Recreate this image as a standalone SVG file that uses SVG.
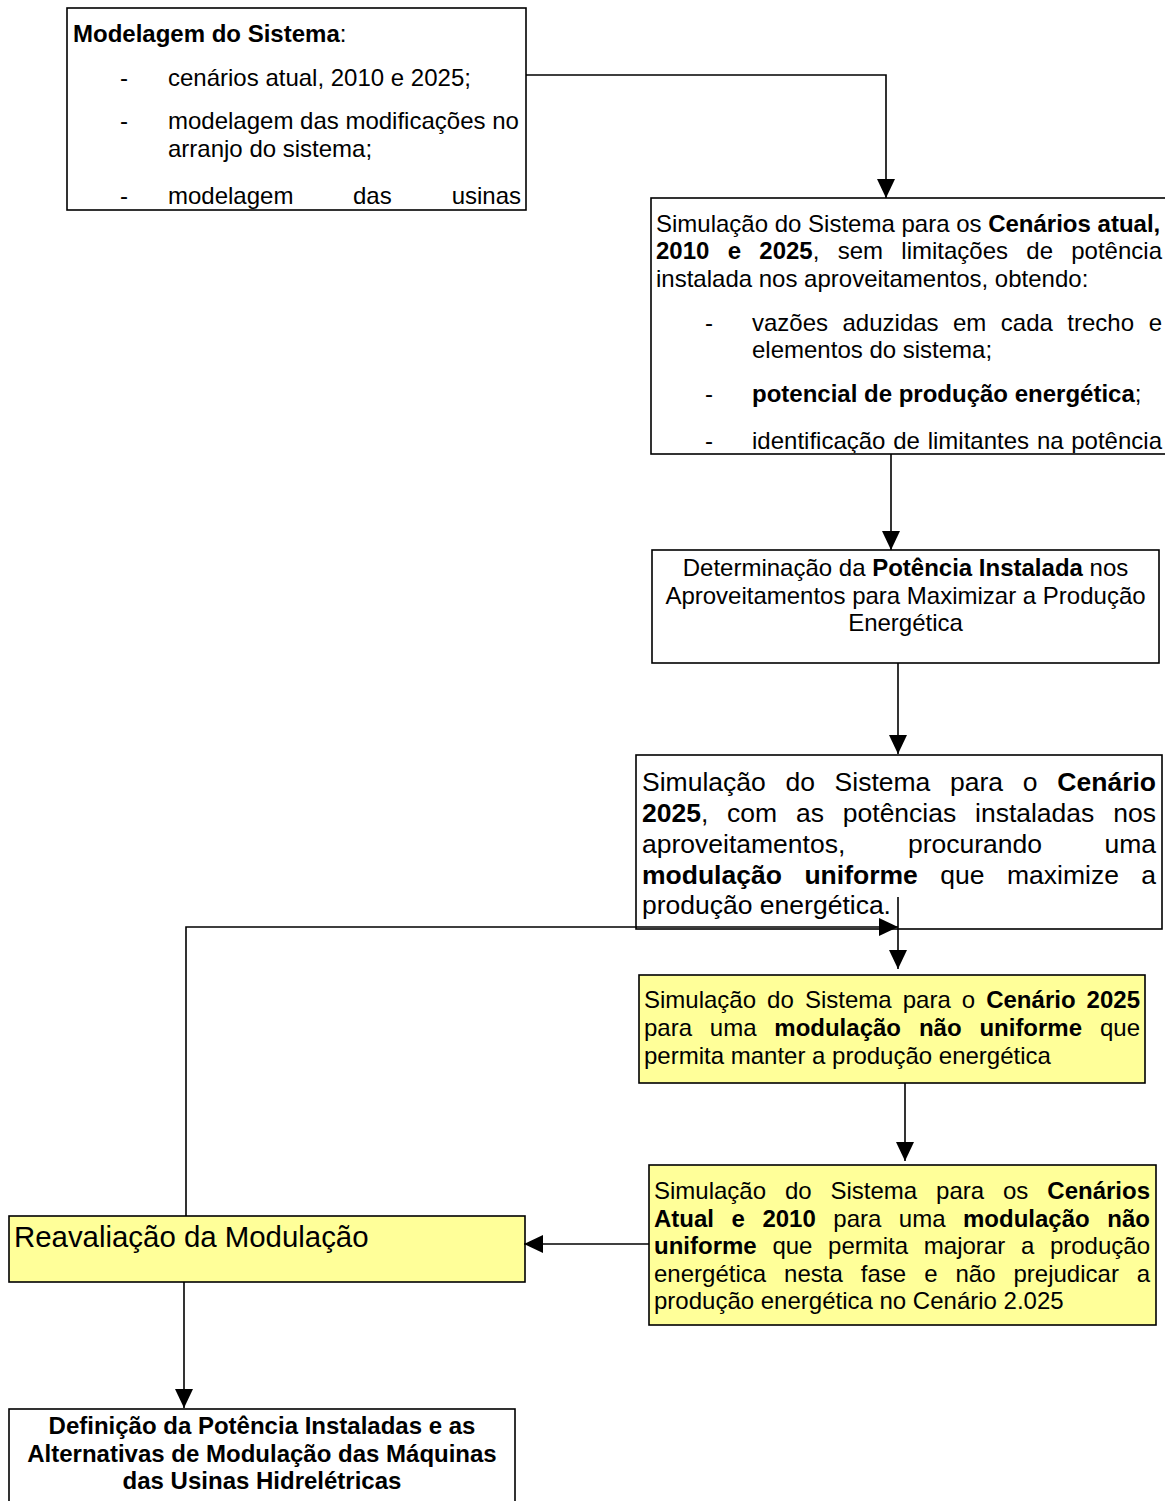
<svg xmlns="http://www.w3.org/2000/svg" width="1165" height="1501" viewBox="0 0 1165 1501">
<style>
text{font-family:"Liberation Sans",Arial,sans-serif;font-size:24px;fill:#000}
.b{font-weight:bold}
.big{font-size:26.5px}
.huge{font-size:29.4px}
.box{fill:#fff;stroke:#000;stroke-width:1.6}
.yel{fill:#FFFF99;stroke:#000;stroke-width:1.6}
.c{fill:none;stroke:#000;stroke-width:1.6}
.mid{text-anchor:middle}
.end{text-anchor:end}
</style>
<defs>
<marker id="ah" markerUnits="userSpaceOnUse" markerWidth="20" markerHeight="20" viewBox="0 0 20 20" refX="19" refY="10" orient="auto">
<path d="M0,1 L19,10 L0,19 z" fill="#000"/>
</marker>
<clipPath id="cp1"><rect x="67" y="8" width="459" height="201"/></clipPath>
<clipPath id="cp2"><rect x="651" y="198" width="520" height="255"/></clipPath>
</defs>

<g id="n1">
<rect class="box" x="67" y="8" width="459" height="202"/>
<g clip-path="url(#cp1)">
<text x="73" y="42"><tspan class="b">Modelagem do Sistema</tspan>:</text>
<text x="120" y="86">-</text><text x="168" y="86">cenários atual, 2010 e 2025;</text>
<text x="120" y="129">-</text><text x="168" y="129">modelagem das modificações no</text>
<text x="168" y="157">arranjo do sistema;</text>
<text x="120" y="204">-</text><text x="168" y="204">modelagem</text><text x="353" y="204">das</text><text class="end" x="521" y="204">usinas</text>
</g>
</g>

<g id="n2">
<rect class="box" x="651" y="198" width="520" height="256"/>
<g clip-path="url(#cp2)">
<text x="656" y="232">Simulação do Sistema para os <tspan class="b">Cenários atual,</tspan></text>
<text y="259"><tspan class="b" x="656">2010</tspan><tspan class="b" x="727.7">e</tspan><tspan class="b" x="759.3">2025</tspan>,<tspan x="837.7">sem</tspan><tspan x="901.3">limitações</tspan><tspan x="1026.3">de</tspan><tspan class="end" x="1162">potência</tspan></text>
<text x="656" y="287">instalada nos aproveitamentos, obtendo:</text>
<text x="705" y="331">-</text>
<text y="331"><tspan x="752">vazões</tspan><tspan x="842.5">aduzidas</tspan><tspan x="953">em</tspan><tspan x="1000.8">cada</tspan><tspan x="1067.3">trecho</tspan><tspan class="end" x="1162">e</tspan></text>
<text x="752" y="358">elementos do sistema;</text>
<text x="705" y="402">-</text>
<text x="752" y="402"><tspan class="b">potencial de produção energética</tspan>;</text>
<text x="705" y="449">-</text>
<text y="449"><tspan x="752">identificação</tspan><tspan x="893.2">de</tspan><tspan x="927.7">limitantes</tspan><tspan x="1036.9">na</tspan><tspan class="end" x="1162">potência</tspan></text>
</g>
</g>

<g id="n3">
<rect class="box" x="652" y="550" width="507" height="113"/>
<text class="mid" x="905.5" y="576">Determinação da <tspan class="b">Potência Instalada</tspan> nos</text>
<text class="mid" x="905.5" y="604">Aproveitamentos para Maximizar a Produção</text>
<text class="mid" x="905.5" y="631">Energética</text>
</g>

<g id="n4">
<rect class="box" x="636" y="755" width="526" height="174"/>
<text class="big" y="791"><tspan x="642">Simulação</tspan><tspan x="785.4">do</tspan><tspan x="834.6">Sistema</tspan><tspan x="950">para</tspan><tspan x="1022.7">o</tspan><tspan class="b end" x="1156">Cenário</tspan></text>
<text class="big" y="822"><tspan class="b" x="642">2025</tspan>,<tspan x="727.1">com</tspan><tspan x="796">as</tspan><tspan x="842.8">potências</tspan><tspan x="975">instaladas</tspan><tspan class="end" x="1156">nos</tspan></text>
<text class="big" y="853"><tspan x="642">aproveitamentos,</tspan><tspan x="907.9">procurando</tspan><tspan class="end" x="1156">uma</tspan></text>
<text class="big" y="884"><tspan class="b" x="642">modulação</tspan><tspan class="b" x="804.4">uniforme</tspan><tspan x="940.3">que</tspan><tspan x="1007">maximize</tspan><tspan class="end" x="1156">a</tspan></text>
<text class="big" x="642" y="914">produção energética.</text>
</g>

<g id="n5">
<rect class="yel" x="639" y="975" width="506" height="108"/>
<text y="1008"><tspan x="644">Simulação</tspan><tspan x="767.1">do</tspan><tspan x="804.9">Sistema</tspan><tspan x="902.7">para</tspan><tspan x="961.8">o</tspan><tspan class="b" x="986.2">Cenário</tspan><tspan class="b end" x="1140">2025</tspan></text>
<text y="1036"><tspan x="644">para</tspan><tspan x="709.8">uma</tspan><tspan class="b" x="774.3">modulação</tspan><tspan class="b" x="918.9">não</tspan><tspan class="b" x="979.4">uniforme</tspan><tspan class="end" x="1140">que</tspan></text>
<text x="644" y="1064">permita manter a produção energética</text>
</g>

<g id="n6">
<rect class="yel" x="649" y="1165" width="507" height="160"/>
<text y="1199"><tspan x="654">Simulação</tspan><tspan x="784.9">do</tspan><tspan x="830.5">Sistema</tspan><tspan x="936.1">para</tspan><tspan x="1003">os</tspan><tspan class="b end" x="1150">Cenários</tspan></text>
<text y="1227"><tspan class="b" x="654">Atual</tspan><tspan class="b" x="731.5">e</tspan><tspan class="b" x="762.4">2010</tspan><tspan x="833.3">para</tspan><tspan x="898.8">uma</tspan><tspan class="b" x="963">modulação</tspan><tspan class="b end" x="1150">não</tspan></text>
<text y="1254"><tspan class="b" x="654">uniforme</tspan><tspan x="772.4">que</tspan><tspan x="828.1">permita</tspan><tspan x="923.8">majorar</tspan><tspan x="1020.9">a</tspan><tspan class="end" x="1150">produção</tspan></text>
<text y="1282"><tspan x="654">energética</tspan><tspan x="784.1">nesta</tspan><tspan x="860.8">fase</tspan><tspan x="924.2">e</tspan><tspan x="955.5">não</tspan><tspan x="1013.5">prejudicar</tspan><tspan class="end" x="1150">a</tspan></text>
<text x="654" y="1309">produção energética no Cenário 2.025</text>
</g>

<g id="n7">
<rect class="yel" x="9" y="1216" width="516" height="66"/>
<text class="huge" x="14" y="1247">Reavaliação da Modulação</text>
</g>

<g id="n8">
<rect class="box" x="9" y="1409" width="506" height="110"/>
<text class="b mid" x="262" y="1434">Definição da Potência Instaladas e as</text>
<text class="b mid" x="262" y="1462">Alternativas de Modulação das Máquinas</text>
<text class="b mid" x="262" y="1489">das Usinas Hidrelétricas</text>
</g>

<g id="connectors">
<path class="c" d="M526,75 H886 V198" marker-end="url(#ah)"/>
<path class="c" d="M891,454 V550" marker-end="url(#ah)"/>
<path class="c" d="M898,663 V754" marker-end="url(#ah)"/>
<path class="c" d="M898,897 V969" marker-end="url(#ah)"/>
<path class="c" d="M186,1216 V927 H898" marker-end="url(#ah)"/>
<path class="c" d="M905,1083 V1161" marker-end="url(#ah)"/>
<path class="c" d="M649,1244 H524" marker-end="url(#ah)"/>
<path class="c" d="M184,1282 V1408" marker-end="url(#ah)"/>
</g>
</svg>
